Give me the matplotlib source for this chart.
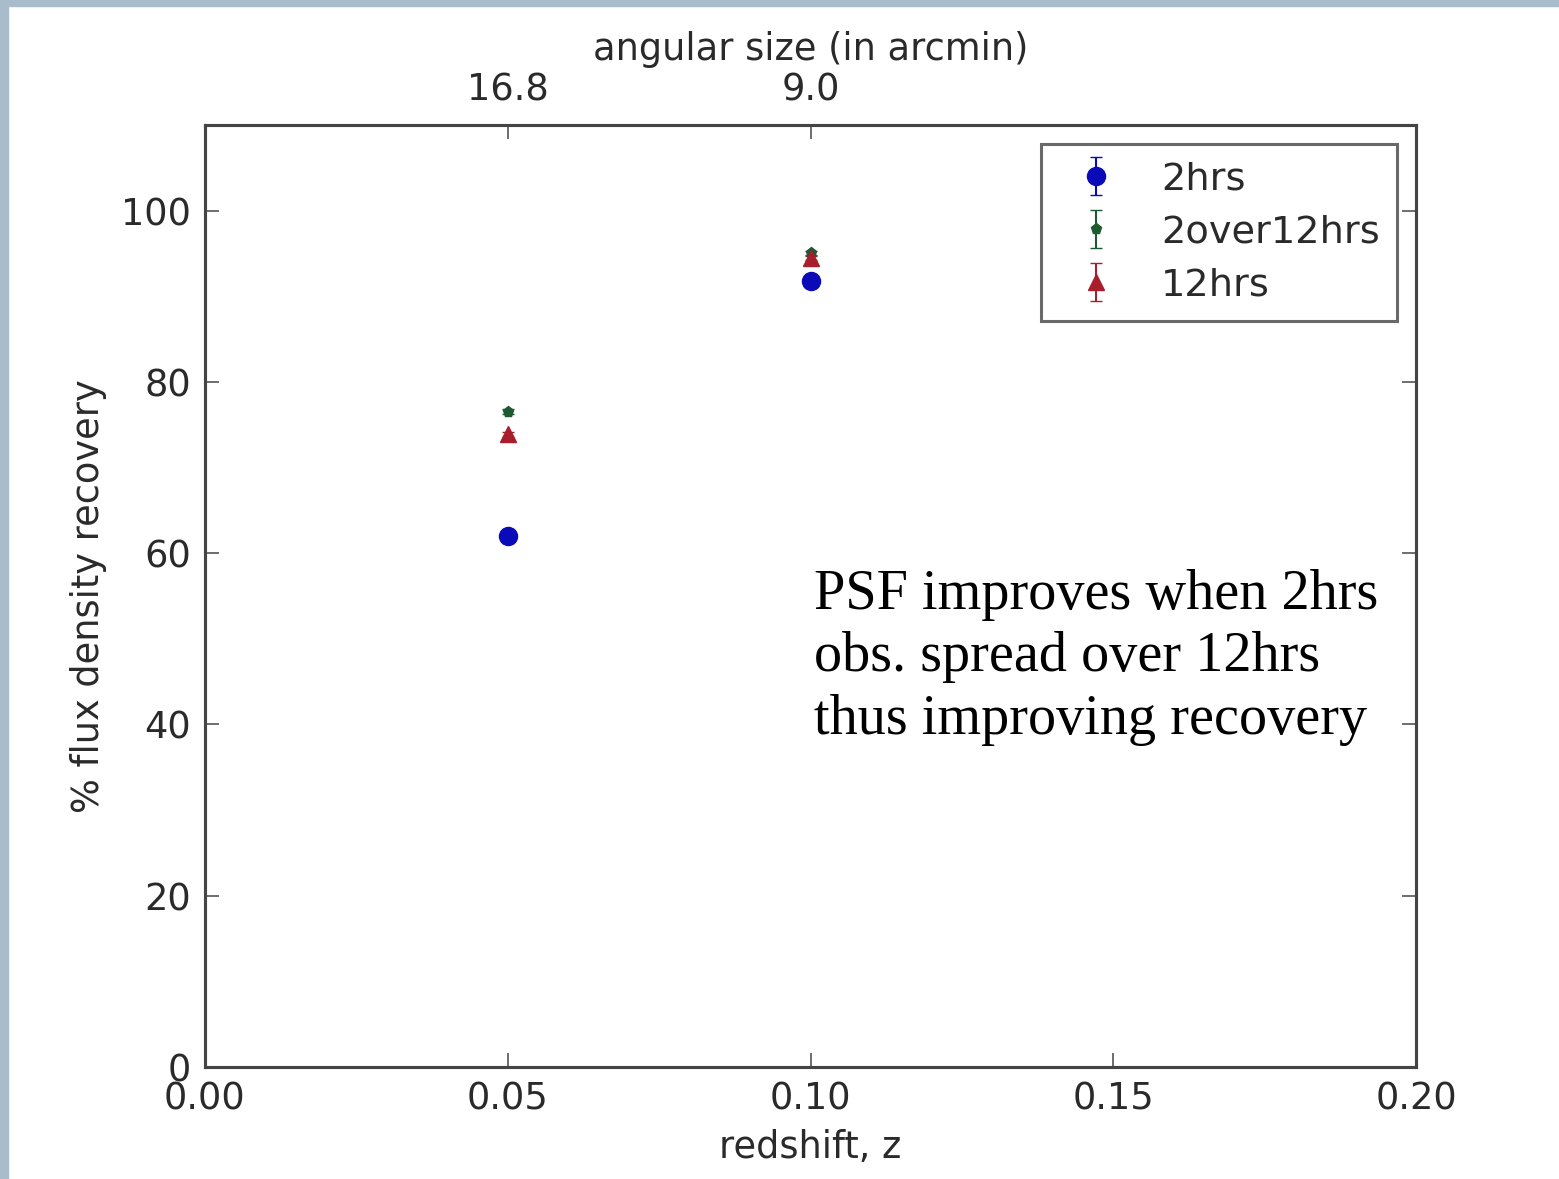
import matplotlib
matplotlib.use('Agg')
import matplotlib.pyplot as plt
from matplotlib.patches import Rectangle

# Redshift values and recovered flux density (%)
redshift = [0.05, 0.10]
rec_2hrs = [62.0, 91.8]
rec_2over12hrs = [76.5, 95.0]
rec_12hrs = [73.9, 94.5]
err_2hrs = [0.3, 0.3]
err_2over12hrs = [0.3, 0.3]
err_12hrs = [0.3, 0.3]

# Top axis: angular size in arcmin
top_ticks = [0.05, 0.10]
top_labels = ['16.8', '9.0']

txt_col = '#2a2a2a'
fs = 26.5
plt.rcParams['font.family'] = 'DejaVu Sans'

fig = plt.figure(figsize=(15.59, 11.79), dpi=100)
# slide border (left and top)
fig.patches.append(Rectangle((0, 0), 8 / 1559, 1, transform=fig.transFigure,
                             color='#a9bccb', zorder=-1))
fig.patches.append(Rectangle((0, 1 - 6 / 1179), 1, 6 / 1179, transform=fig.transFigure,
                             color='#a9bccb', zorder=-1))

ax = fig.add_axes([205 / 1559, 1 - 1067 / 1179, (1416 - 205) / 1559, (1067 - 125) / 1179])

ax.errorbar(redshift, rec_2hrs, yerr=err_2hrs, fmt='o', color='#0a0ab8',
            markersize=13, capsize=4, label='2hrs')
ax.errorbar(redshift, rec_2over12hrs, yerr=err_2over12hrs, fmt='p', color='#1d5a30',
            markersize=8, capsize=4, label='2over12hrs')
ax.errorbar(redshift, rec_12hrs, yerr=err_12hrs, fmt='^', color='#a81e2c',
            markersize=11, capsize=4, label='12hrs')

ax.set_xlim(0, 0.2)
ax.set_ylim(0, 110)
ax.set_xticks([0.0, 0.05, 0.10, 0.15, 0.20])
ax.set_xticklabels(['0.00', '0.05', '0.10', '0.15', '0.20'])
ax.set_yticks([0, 20, 40, 60, 80, 100])
ax.tick_params(direction='in', length=10, width=1.2, labelsize=fs, colors='#555',
               labelcolor=txt_col, pad=10, right=True, top=False)
for s in ax.spines.values():
    s.set_linewidth(2.2)
    s.set_color('#444')

ax.set_xlabel('redshift, z', fontsize=fs, color=txt_col, labelpad=8)
ax.set_ylabel('% flux density recovery', fontsize=fs, color=txt_col, labelpad=10)

ax2 = ax.twiny()
ax2.set_xlim(ax.get_xlim())
ax2.set_xticks(top_ticks)
ax2.set_xticklabels(top_labels)
ax2.tick_params(direction='in', length=10, width=1.2, labelsize=fs, colors='#555',
                labelcolor=txt_col, pad=12)
ax2.set_xlabel('angular size (in arcmin)', fontsize=fs, color=txt_col, labelpad=8)
for s in ax2.spines.values():
    s.set_linewidth(2.2)
    s.set_color('#444')

leg = ax.legend(loc='upper right', fontsize=27.5, numpoints=1, fancybox=False,
                borderpad=0.45, handlelength=2.0, handletextpad=0.7,
                labelspacing=0.45, borderaxespad=0.5)
leg.get_frame().set_edgecolor('#444')
leg.get_frame().set_linewidth(2.2)
for t in leg.get_texts():
    t.set_color(txt_col)

ax.text(0.1005, 58.2, 'PSF improves when 2hrs\nobs. spread over 12hrs\nthus improving recovery',
        fontsize=40.5, family='Liberation Serif', color='black', va='top', ha='left',
        linespacing=1.27)

fig.savefig('out.png', dpi=100)
